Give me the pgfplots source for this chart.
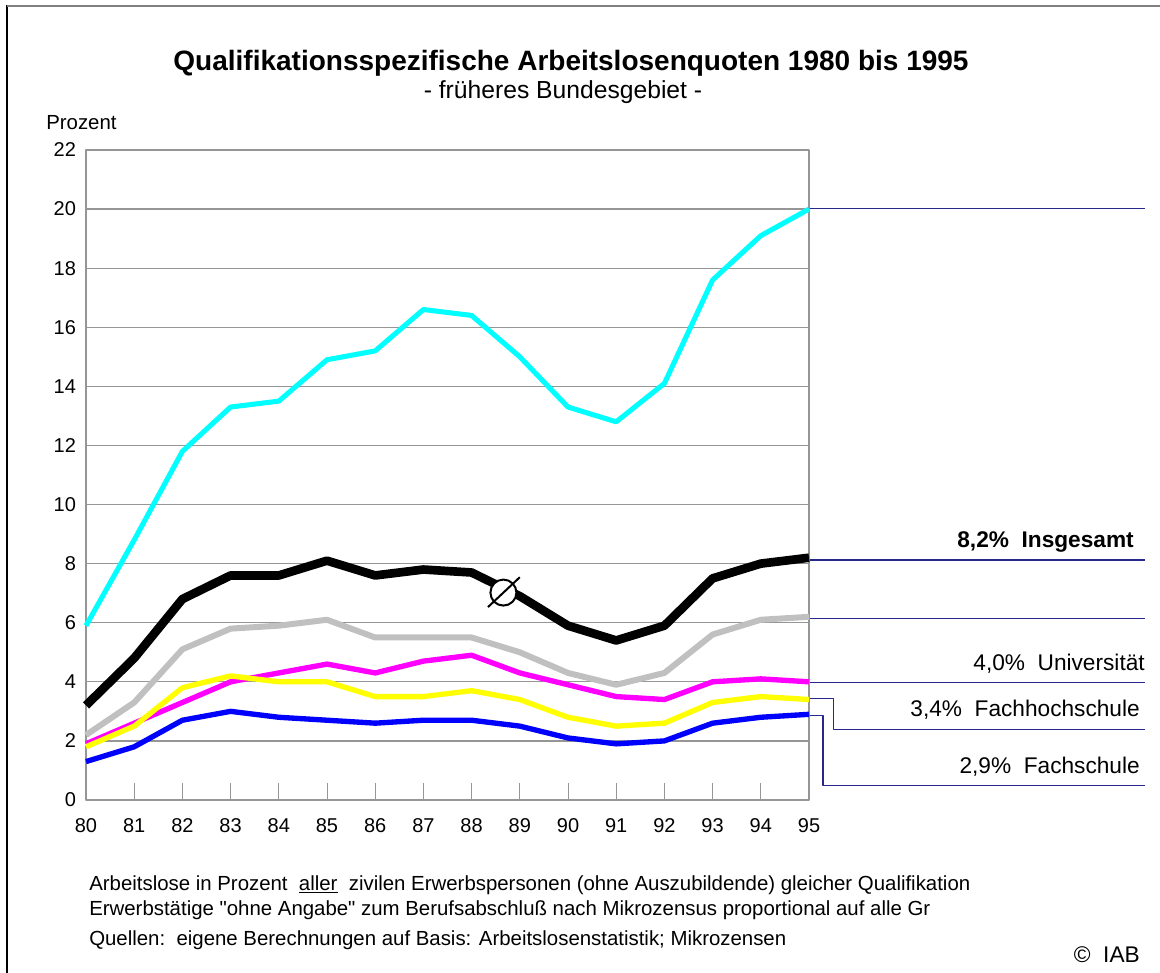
\documentclass[border=0pt]{standalone}
\usepackage{pgfplots}
\pgfplotsset{compat=1.18}
\usepackage{fontspec}
\setmainfont{Liberation Sans}
\newfontfamily\nolig{Liberation Sans}[Ligatures=TeXOff]
\definecolor{navyline}{RGB}{40,40,140}
\definecolor{gridgray}{RGB}{150,150,150}
\definecolor{lgray}{RGB}{192,192,192}
\definecolor{cyanx}{RGB}{0,255,255}
\definecolor{magentax}{RGB}{255,0,255}
\definecolor{yellowx}{RGB}{255,255,0}
\definecolor{bluex}{RGB}{0,0,255}
\begin{document}
\begin{tikzpicture}[x=0.75pt,y=0.75pt]
\useasboundingbox (-86,-173) rectangle (1074,800);
% frame
\draw[black, line width=1.5pt] (-79,795) -- (-79,-173);
\draw[gray, line width=1.5pt] (-79,794) -- (1074,794);
\begin{axis}[
  at={(0,0)}, anchor=origin,
  scale only axis, width=542.25pt, height=487.5pt,
  xmin=80, xmax=95, ymin=0, ymax=22,
  xtick={80,...,95}, ytick={0,2,...,22},
  clip=false,
  axis line style={gridgray, line width=1pt},
  ymajorgrids, grid style={gridgray, line width=1pt},
  y tick style={draw=none},
  x tick style={gridgray, line width=0.75pt},
  tick align=inside, xtick pos=bottom, ytick pos=left,
  major tick length=12.75pt,
  /pgf/number format/assume math mode=true,
  ticklabel style={font=\fontsize{15}{17}\selectfont},
  yticklabel style={xshift=-4pt},
  xticklabel style={yshift=-10pt},
  line join=round,
]
\addplot[cyanx, line width=3.8pt] coordinates {
(80,5.9)(81,8.8)(82,11.8)(83,13.3)(84,13.5)(85,14.9)(86,15.2)(87,16.6)
(88,16.4)(89,15.0)(90,13.3)(91,12.8)(92,14.1)(93,17.6)(94,19.1)(95,20.0)};
\addplot[lgray, line width=4.5pt] coordinates {
(80,2.2)(81,3.3)(82,5.1)(83,5.8)(84,5.9)(85,6.1)(86,5.5)(87,5.5)
(88,5.5)(89,5.0)(90,4.3)(91,3.9)(92,4.3)(93,5.6)(94,6.1)(95,6.2)};
\addplot[magentax, line width=4pt] coordinates {
(80,1.9)(81,2.6)(82,3.3)(83,4.0)(84,4.3)(85,4.6)(86,4.3)(87,4.7)
(88,4.9)(89,4.3)(90,3.9)(91,3.5)(92,3.4)(93,4.0)(94,4.1)(95,4.0)};
\addplot[yellowx, line width=4pt] coordinates {
(80,1.8)(81,2.5)(82,3.8)(83,4.2)(84,4.0)(85,4.0)(86,3.5)(87,3.5)
(88,3.7)(89,3.4)(90,2.8)(91,2.5)(92,2.6)(93,3.3)(94,3.5)(95,3.4)};
\addplot[bluex, line width=4pt] coordinates {
(80,1.3)(81,1.8)(82,2.7)(83,3.0)(84,2.8)(85,2.7)(86,2.6)(87,2.7)
(88,2.7)(89,2.5)(90,2.1)(91,1.9)(92,2.0)(93,2.6)(94,2.8)(95,2.9)};
\addplot[black, line width=6.5pt] coordinates {
(80,3.2)(81,4.8)(82,6.8)(83,7.6)(84,7.6)(85,8.1)(86,7.6)(87,7.8)
(88,7.7)(89,6.9)(90,5.9)(91,5.4)(92,5.9)(93,7.5)(94,8.0)(95,8.2)};
% average symbol
\draw[black, fill=white, line width=1.5pt] (axis cs:88.66,7.02) circle[radius=9.75pt];
\draw[black, line width=1.5pt] (axis cs:88.34,6.53) -- (axis cs:89.0,7.54);
% label lines
\draw[navyline, line width=0.9pt] (axis cs:95.02,20.03) -- (axis cs:101.97,20.03);
\draw[navyline, line width=0.9pt] (axis cs:95.02,8.12) -- (axis cs:101.97,8.12);
\draw[navyline, line width=0.9pt] (axis cs:95.02,6.15) -- (axis cs:101.97,6.15);
\draw[navyline, line width=0.9pt] (axis cs:95.02,3.97) -- (axis cs:101.97,3.97);
\draw[navyline, line width=0.9pt] (axis cs:95.02,3.43) -- (axis cs:95.5,3.43) -- (axis cs:95.5,2.39) -- (axis cs:101.97,2.39);
\draw[navyline, line width=0.9pt] (axis cs:95.02,2.87) -- (axis cs:95.29,2.87) -- (axis cs:95.29,0.5) -- (axis cs:101.97,0.5);
\end{axis}
% titles
\node[font=\bfseries\fontsize{21}{24}\selectfont] at (485,737) {Qualifikationsspezifische Arbeitslosenquoten 1980 bis 1995};
\node[font=\fontsize{18.5}{21}\selectfont] at (477,708) {- früheres Bundesgebiet -};
\node[anchor=west, inner sep=0pt, font=\fontsize{15.3}{18}\selectfont] at (-40,677) {Prozent};
% right labels
\node[anchor=east, inner sep=0pt, font=\bfseries\fontsize{17}{20}\selectfont] at (1048,258) {8,2\%\ \ Insgesamt};
\node[anchor=east, inner sep=0pt, font=\fontsize{17}{20}\selectfont] at (1059,136) {4,0\%\ \ Universität};
\node[anchor=east, inner sep=0pt, font=\fontsize{17}{20}\selectfont] at (1054,90) {3,4\%\ \ Fachhochschule};
\node[anchor=east, inner sep=0pt, font=\fontsize{17}{20}\selectfont] at (1054,33) {2,9\%\ \ Fachschule};
% footnotes
\node[anchor=west, inner sep=0pt, font=\fontsize{15.3}{18}\selectfont] at (3,-85) {Arbeitslose in Prozent\ \ \underline{aller}\ \ zivilen Erwerbspersonen (ohne Auszubildende) gleicher Qualifikation};
\begin{scope}
\clip (0,-130) rectangle (843,-90);
\node[anchor=west, inner sep=0pt, font=\fontsize{15.3}{18}\selectfont] at (3,-110) {Erwerbstätige {\nolig"}ohne Angabe{\nolig"} zum Berufsabschluß nach Mikrozensus proportional auf alle Gruppen};
\end{scope}
\node[anchor=west, inner sep=0pt, font=\fontsize{15.3}{18}\selectfont] at (3,-140) {Quellen:\ \ eigene Berechnungen auf Basis: Arbeitslosenstatistik; Mikrozensen};
\node[anchor=east, inner sep=0pt, font=\fontsize{17}{20}\selectfont] at (1054,-155) {©\ \ IAB};
\end{tikzpicture}
\end{document}
